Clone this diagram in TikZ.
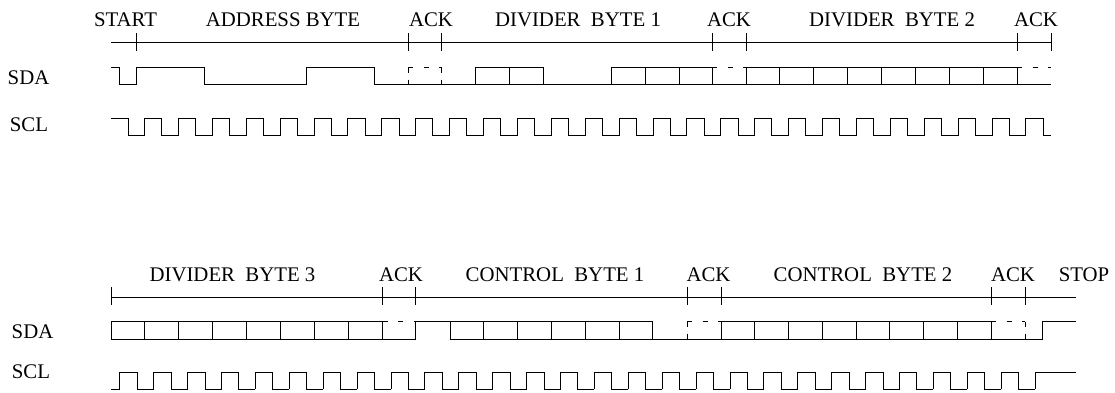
\documentclass[tikz,border=0pt]{standalone}
\usepackage{fontspec}
\setmainfont{Liberation Serif}
\usepackage{tikz}
\usetikzlibrary{positioning}

\tikzset{
	lbl/.style = {inner sep=0pt, anchor=base, font=\fontsize{20.8}{24}\selectfont},
	sig/.style = {line width=0.9pt, line join=miter},
	ackdash/.style = {sig, dash pattern=on 5pt off 10.5pt},
	ackside/.style = {sig, dash pattern=on 5pt off 7pt},
}

\begin{document}
\begin{tikzpicture}[x=1pt, y=-1pt]
		\useasboundingbox (0,0) rectangle (1115,392);

		% labels of the upper trace
		\node[lbl] (start) at (125.5,26) {START};
		\node[lbl] (addr) at (283,26) {ADDRESS BYTE};
		\node[lbl] (ack1) at (431,26) {ACK};
		\node[lbl] (div1) at (578,26) {DIVIDER\ \ BYTE 1};
		\node[lbl] (ack2) at (729,26) {ACK};
		\node[lbl] (div2) at (892,26) {DIVIDER\ \ BYTE 2};
		\node[lbl] (ack3) at (1036,26) {ACK};
		\node[lbl] (sda1) at (28.5,84) {SDA};
		\node[lbl] (scl1) at (29,131) {SCL};

		% labels of the lower trace
		\node[lbl] (div3) at (232.5,281) {DIVIDER\ \ BYTE 3};
		\node[lbl] (ack4) at (401,281) {ACK};
		\node[lbl] (ctl1) at (555,281) {CONTROL\ \ BYTE 1};
		\node[lbl] (ack5) at (708.5,281) {ACK};
		\node[lbl] (ctl2) at (863,281) {CONTROL\ \ BYTE 2};
		\node[lbl] (ack6) at (1013,281) {ACK};
		\node[lbl] (stop) at (1084,281) {STOP};
		\node[lbl] (sda2) at (32.5,338) {SDA};
		\node[lbl] (scl2) at (31,378) {SCL};

		% time axes
		\draw[sig] (111,42) -- (1051,42);
		\foreach \x in {136.5,408,441.5,712,746,1017,1051}
			\draw[sig] (\x,33) -- (\x,51);
		\draw[sig] (111,297) -- (1076,297);
		\foreach \x in {111,382.5,415.5,687,721,991,1025}
			\draw[sig] (\x,287) -- (\x,305);

		% upper SDA
		\draw[sig] (111,67.5) -- (119.5,67.5) -- (119.5,84.5) -- (136.5,84.5) -- (136.5,67.5) -- (204.5,67.5) -- (204.5,84.5) -- (306,84.5) -- (306,67.5) -- (374,67.5) -- (374,84.5) -- (475,84.5) -- (475,67.5) -- (543,67.5) -- (543,84.5) -- (611,84.5) -- (611,67.5) -- (712,67.5) -- (712,84.5);
		\draw[sig] (475,84.5) -- (1051,84.5);
		\draw[sig] (746,84.5) -- (746,67.5) -- (1017,67.5) -- (1017,84.5);
		\draw[sig] (509,67.5) -- (509,84.5);
		\foreach \x in {645,679}
			\draw[sig] (\x,67.5) -- (\x,84.5);
		\foreach \k in {1,...,7}
			\draw[sig] (746+\k*33.9,67.5) -- (746+\k*33.9,84.5);
		\draw[ackdash] (408,67.5) -- (441.5,67.5);
		\draw[ackside] (408,67.5) -- (408,84.5);
		\draw[ackside] (441.5,67.5) -- (441.5,84.5);
		\draw[ackdash] (712,67.5) -- (746,67.5);
		\draw[ackdash] (1017,67.5) -- (1051,67.5);

		% upper SCL
		\draw[sig] (111,118.5) -- (128,118.5) -- (128,135.5) -- (144.5,135.5);
		\foreach \k in {0,...,25}
			\draw[sig] (144.5+\k*33.9,135.5) -- (144.5+\k*33.9,118.5) -- (161.7+\k*33.9,118.5) -- (161.7+\k*33.9,135.5) -- (144.5+\k*33.9+33.9,135.5);
		\draw[sig] (1025.9,135.5) -- (1025.9,118.5) -- (1043,118.5) -- (1043,135.5) -- (1051,135.5);

		% lower SDA
		\draw[sig] (111,321.5) -- (382.5,321.5) -- (382.5,339) -- (111,339) -- cycle;
		\foreach \k in {1,...,7}
			\draw[sig] (111+\k*33.9,321.5) -- (111+\k*33.9,339);
		\draw[sig] (382.5,339) -- (415.5,339) -- (415.5,321.5) -- (652.5,321.5) -- (652.5,339);
		\draw[sig] (450,321.5) -- (450,339) -- (721,339);
		\foreach \k in {1,...,5}
			\draw[sig] (450+\k*33.9,321.5) -- (450+\k*33.9,339);
		\draw[sig] (721,321.5) -- (991,321.5) -- (991,339) -- (721,339) -- cycle;
		\foreach \k in {1,...,7}
			\draw[sig] (721+\k*33.75,321.5) -- (721+\k*33.75,339);
		\draw[sig] (991,339) -- (1042.5,339) -- (1042.5,321.5) -- (1076,321.5);
		\draw[ackdash] (382.5,321.5) -- (415.5,321.5);
		\draw[ackdash] (687,321.5) -- (721,321.5);
		\draw[ackside] (687,321.5) -- (687,339);
		\draw[ackdash] (991,321.5) -- (1025,321.5);
		\draw[ackside] (1025,321.5) -- (1025,339);

		% lower SCL
		\draw[sig] (111,389) -- (119.8,389);
		\foreach \k in {0,...,26}
			\draw[sig] (119.8+\k*33.9,389) -- (119.8+\k*33.9,372) -- (137.2+\k*33.9,372) -- (137.2+\k*33.9,389) -- (119.8+\k*33.9+33.9,389);
		\draw[sig] (1035,389) -- (1035,372) -- (1076,372);
	\end{tikzpicture}
\end{document}
